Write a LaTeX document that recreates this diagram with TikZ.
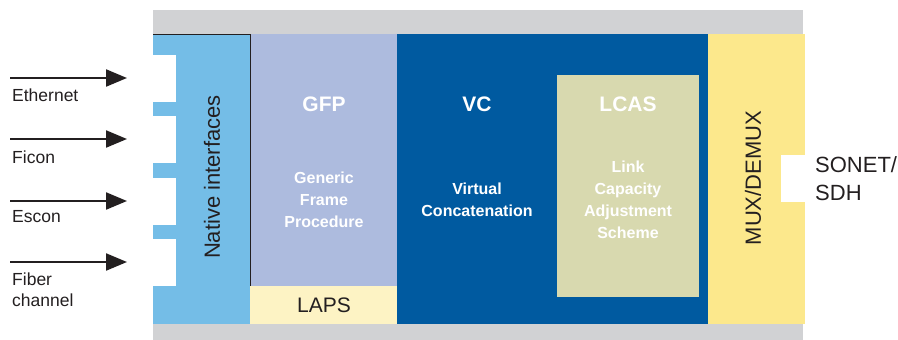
\documentclass[tikz,border=0pt]{standalone}
\usepackage{fontspec}
\setmainfont{Liberation Sans}
\usetikzlibrary{arrows.meta,positioning}

\definecolor{framegray}{RGB}{209,210,212}
\definecolor{nativeblue}{RGB}{116,189,231}
\definecolor{gfpblue}{RGB}{173,187,222}
\definecolor{lapsyellow}{RGB}{253,243,196}
\definecolor{vcblue}{RGB}{0,90,160}
\definecolor{lcasgreen}{RGB}{216,217,175}
\definecolor{muxyellow}{RGB}{252,232,140}
\definecolor{inktext}{RGB}{35,31,32}

\tikzset{
  block/.style={anchor=north west, inner sep=0pt, outer sep=0pt},
  feed/.style={line width=2.2pt, draw=inktext, -{Triangle[length=21pt,width=17pt]}},
  sidetext/.style={anchor=west, inner sep=0pt, text=inktext, font=\fontsize{17.5}{21}\selectfont, align=left},
  headtext/.style={text=white, font=\bfseries\fontsize{21}{24}\selectfont},
  bodytext/.style={text=white, align=center, font=\bfseries\fontsize{16}{22}\selectfont},
  vertext/.style={rotate=90, text=inktext, font=\fontsize{22}{24}\selectfont}
}

\begin{document}
\begin{tikzpicture}[x=1pt,y=-1pt]
  \useasboundingbox (0,0) rectangle (898,340);

  % grey frame behind the layers
  \node[block, fill=framegray, minimum width=650pt, minimum height=330pt] (frame) at (153,10) {};

  % layers
  \node[block, fill=nativeblue, minimum width=97pt, minimum height=290pt] (native) at (153,34) {};
  \node[block, fill=gfpblue, minimum width=147pt, minimum height=252pt] (gfp) at (250,34) {};
  \node[block, fill=lapsyellow, minimum width=147pt, minimum height=38pt] (laps) at (250,286) {};
  \node[block, fill=vcblue, minimum width=311pt, minimum height=290pt] (vc) at (397,34) {};
  \node[block, fill=lcasgreen, minimum width=142pt, minimum height=222pt] (lcas) at (557,75) {};
  \node[block, fill=muxyellow, minimum width=97pt, minimum height=290pt] (mux) at (708,34) {};

  % ports
  \foreach \y in {55,116,178,239}
    \fill[white] (153,\y) rectangle (176,\y+47);
  \fill[white] (781,155) rectangle (805,202);
  \draw[line width=0.6pt, inktext] (native.north west) -- (native.north east) -- (250,286);

  % texts in the layers
  \node[vertext] (nativetxt) at (212,177) {Native interfaces};
  \node[vertext] (muxtxt) at (753,178) {MUX/DEMUX};
  \node[headtext] (gfptxt) at (324,104) {GFP};
  \node[bodytext] (gfpsub) at (324,200) {Generic\\Frame\\Procedure};
  \node[text=inktext, font=\fontsize{21}{24}\selectfont] (lapstxt) at (324,305) {LAPS};
  \node[headtext] (vctxt) at (477,104) {VC};
  \node[bodytext] (vcsub) at (477,200) {Virtual\\Concatenation};
  \node[headtext] (lcastxt) at (628,104) {LCAS};
  \node[bodytext] (lcassub) at (628,200) {Link\\Capacity\\Adjustment\\Scheme};

  % inputs
  \foreach \name/\y in {eth/78,fic/139,esc/201,fib/262}{
    \coordinate (\name-a) at (10,\y);
    \coordinate (\name-b) at (127,\y);
    \draw[feed] (\name-a) -- (\name-b);
  }
  \node[sidetext] (ethtxt) at (12,95) {Ethernet};
  \node[sidetext] (fictxt) at (12,157) {Ficon};
  \node[sidetext] (esctxt) at (12,217) {Escon};
  \node[sidetext] (fibtxt) at (12,290) {Fiber\\channel};

  % output
  \node[sidetext, font=\fontsize{22}{28}\selectfont] (sonettxt) at (815,179) {SONET/\\SDH};
\end{tikzpicture}
\end{document}
